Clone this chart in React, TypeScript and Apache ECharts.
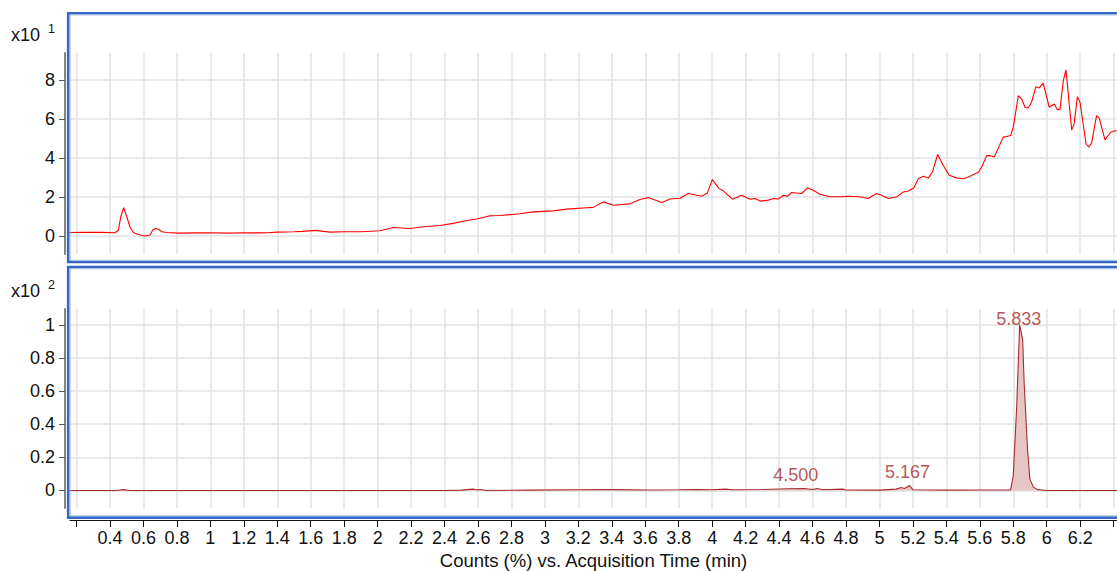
import React, { useEffect, useRef } from 'react';
import * as echarts from 'echarts';

// Top trace (x10^1 counts %) : [time (min), value]
const topTrace: [number, number][] = [
  [0.155, 0.18], [0.25, 0.19], [0.35, 0.19], [0.43, 0.17], [0.45, 0.3], [0.465, 1.0], [0.482, 1.46],
  [0.5, 1.0], [0.52, 0.45], [0.54, 0.18], [0.57, 0.08], [0.608, 0.0], [0.64, 0.05], [0.655, 0.3],
  [0.671, 0.39], [0.69, 0.35], [0.71, 0.22], [0.74, 0.18], [0.807, 0.15], [0.9, 0.16], [1.0, 0.17],
  [1.1, 0.15], [1.2, 0.17], [1.3, 0.16], [1.345, 0.17], [1.4, 0.2], [1.5, 0.22], [1.55, 0.24],
  [1.626, 0.29], [1.715, 0.2], [1.8, 0.22], [1.9, 0.22], [2.014, 0.27], [2.094, 0.44], [2.193, 0.39],
  [2.273, 0.48], [2.373, 0.54], [2.452, 0.65], [2.532, 0.8], [2.592, 0.87], [2.672, 1.04], [2.731, 1.05],
  [2.851, 1.14], [2.93, 1.24], [3.05, 1.29], [3.13, 1.38], [3.25, 1.45], [3.289, 1.47], [3.349, 1.75],
  [3.409, 1.58], [3.509, 1.65], [3.568, 1.87], [3.618, 1.97], [3.698, 1.72], [3.748, 1.9], [3.808, 1.94],
  [3.857, 2.18], [3.9, 2.1], [3.937, 2.04], [3.971, 2.21], [4.001, 2.89], [4.041, 2.43], [4.061, 2.35],
  [4.121, 1.89], [4.176, 2.09], [4.226, 1.89], [4.256, 1.92], [4.286, 1.79], [4.336, 1.84], [4.366, 1.92],
  [4.396, 1.9], [4.426, 2.09], [4.45, 2.04], [4.475, 2.23], [4.535, 2.18], [4.569, 2.47], [4.604, 2.35],
  [4.644, 2.14], [4.704, 2.01], [4.764, 2.01], [4.813, 2.04], [4.883, 2.01], [4.933, 1.92], [4.983, 2.18],
  [5.013, 2.09], [5.053, 1.92], [5.103, 2.01], [5.142, 2.26], [5.172, 2.31], [5.206, 2.48], [5.232, 2.94],
  [5.262, 3.06], [5.292, 2.97], [5.316, 3.28], [5.348, 4.18], [5.378, 3.67], [5.417, 3.11], [5.46, 2.98],
  [5.501, 2.94], [5.531, 3.03], [5.591, 3.27], [5.611, 3.54], [5.641, 4.12], [5.66, 4.13], [5.686, 4.05],
  [5.74, 5.07], [5.76, 5.1], [5.784, 5.15], [5.8, 5.58], [5.83, 7.19], [5.85, 7.02], [5.87, 6.6],
  [5.889, 6.56], [5.909, 6.85], [5.935, 7.65], [5.955, 7.59], [5.979, 7.84], [6.015, 6.6], [6.045, 6.77],
  [6.063, 6.48], [6.079, 6.48], [6.099, 7.96], [6.115, 8.52], [6.149, 5.44], [6.163, 5.71], [6.183, 7.14],
  [6.199, 6.85], [6.235, 4.73], [6.252, 4.56], [6.268, 4.76], [6.298, 6.17], [6.314, 6.04], [6.348, 4.93],
  [6.382, 5.32], [6.418, 5.41],
];

// Bottom trace (x10^2 counts %)
const bottomTrace: [number, number][] = [
  [0.155, 0], [0.44, 0], [0.48, 0.005], [0.52, 0], [2.4, 0], [2.5, 0.002], [2.57, 0.008], [2.59, 0.004],
  [2.62, 0.006], [2.65, 0], [2.9, 0.002], [3.2, 0.004], [3.4, 0.005], [3.6, 0.003], [3.8, 0.004],
  [3.9, 0.006], [4.0, 0.004], [4.08, 0.008], [4.12, 0.004], [4.3, 0.006], [4.45, 0.01], [4.55, 0.012],
  [4.6, 0.006], [4.63, 0.012], [4.66, 0.004], [4.78, 0.008], [4.8, 0.003], [5.0, 0.002], [5.1, 0.008],
  [5.13, 0.018], [5.15, 0.012], [5.18, 0.03], [5.2, 0.004], [5.4, 0.002], [5.6, 0.003], [5.784, 0.003],
  [5.8, 0.09], [5.82, 0.5], [5.838, 1.0], [5.856, 0.91], [5.865, 0.65], [5.885, 0.25], [5.899, 0.07],
  [5.92, 0.02], [5.945, 0.005], [6.0, 0], [6.42, 0],
];

const peakTimes = [4.5, 5.167, 5.833];
const peakHeights = [0.012, 0.03, 1.0];

const xTickValues = [0.2, 0.4, 0.6, 0.8, 1, 1.2, 1.4, 1.6, 1.8, 2, 2.2, 2.4, 2.6, 2.8, 3, 3.2, 3.4, 3.6,
  3.8, 4, 4.2, 4.4, 4.6, 4.8, 5, 5.2, 5.4, 5.6, 5.8, 6, 6.2, 6.4];
const xLabelValues = [0.4, 0.6, 0.8, 1, 1.2, 1.4, 1.6, 1.8, 2, 2.2, 2.4, 2.6, 2.8, 3, 3.2, 3.4, 3.6,
  3.8, 4, 4.2, 4.4, 4.6, 4.8, 5, 5.2, 5.4, 5.6, 5.8, 6, 6.2];
const topYTicks = [0, 2, 4, 6, 8];
const bottomYTicks = [0, 0.2, 0.4, 0.6, 0.8, 1];
const xAxisTitle = 'Counts (%) vs. Acquisition Time (min)';
const scaleLabels = ['x10', 'x10'];
const scaleExponents = ['1', '2'];

const X_MIN = 0.161;
const X_MAX = 6.42;
const FONT = 'Arial, "Liberation Sans", sans-serif';
const FS = 18;
const GRID_COLOR = '#e2e2e2';
const FRAME_DARK = '#3467c3';
const FRAME_LIGHT = '#a7bfe8';

export default function App() {
  const ref = useRef<HTMLDivElement>(null);
  useEffect(() => {
    if (!ref.current) return;
    const chart = echarts.init(ref.current, undefined, { renderer: 'svg' });

    const yAxisCommon = (ticks: number[], min: number, max: number, grid: number) => ({
      type: 'value',
      gridIndex: grid,
      min,
      max,
      offset: 5,
      axisLine: { show: true, onZero: false, lineStyle: { color: '#858585', width: 2 } },
      axisTick: { show: true, length: 6, customValues: ticks, lineStyle: { color: '#555', width: 1 } },
      axisLabel: { customValues: ticks, fontSize: FS, fontFamily: FONT, color: '#111', margin: 10 },
      splitLine: { show: true, lineStyle: { color: GRID_COLOR, width: 1.5 } },
    });

    const frame = (y: number, h: number) => [
      {
        type: 'rect', z: 100, silent: true,
        shape: { x: 68.2, y, width: 1100, height: h },
        style: { fill: 'none', stroke: FRAME_DARK, lineWidth: 2.6 },
      },
      {
        type: 'rect', z: 100, silent: true,
        shape: { x: 70.2, y: y + 1.8, width: 1100, height: h - 3.6 },
        style: { fill: 'none', stroke: FRAME_LIGHT, lineWidth: 1 },
      },
    ];

    const scaleText = (i: number, yMid: number) => [
      {
        type: 'text', z: 100, x: 11, y: yMid,
        style: { text: scaleLabels[i], fontSize: FS, fontFamily: FONT, fill: '#111', verticalAlign: 'middle' },
      },
      {
        type: 'text', z: 100, x: 48, y: yMid - 5.5,
        style: { text: scaleExponents[i], fontSize: 12.5, fontFamily: FONT, fill: '#111', verticalAlign: 'middle' },
      },
    ];

    chart.setOption({
      animation: false,
      backgroundColor: '#fff',
      grid: [
        { left: 70, right: 0, top: 53, height: 201 },
        { left: 70, right: 0, top: 309, height: 200 },
      ],
      xAxis: [
        {
          type: 'value', gridIndex: 0, min: X_MIN, max: X_MAX,
          axisLine: { show: false, onZero: false },
          axisTick: { show: false, customValues: xTickValues },
          axisLabel: { show: false, customValues: xLabelValues },
          splitLine: { show: true, lineStyle: { color: GRID_COLOR, width: 1.5 } },
        },
        {
          type: 'value', gridIndex: 1, min: X_MIN, max: X_MAX, offset: 12,
          axisLine: { show: true, onZero: false, lineStyle: { color: '#111', width: 1 } },
          axisTick: { show: true, length: 7, customValues: xTickValues, lineStyle: { color: '#111', width: 1 } },
          axisLabel: { customValues: xLabelValues, fontSize: FS, fontFamily: FONT, color: '#111', margin: 9 },
          splitLine: { show: true, lineStyle: { color: GRID_COLOR, width: 1.5 } },
          name: xAxisTitle,
          nameLocation: 'middle',
          nameGap: 31,
          nameTextStyle: { fontSize: 18.5, fontFamily: FONT, color: '#111' },
        },
      ],
      yAxis: [
        yAxisCommon(topYTicks, -0.92, 9.38, 0),
        yAxisCommon(bottomYTicks, -0.106, 1.096, 1),
      ],
      series: [
        {
          type: 'line', xAxisIndex: 0, yAxisIndex: 0, data: topTrace,
          showSymbol: false, symbol: 'none',
          lineStyle: { color: '#ff0000', width: 1.1 },
        },
        {
          type: 'line', xAxisIndex: 1, yAxisIndex: 1, data: bottomTrace,
          showSymbol: false, symbol: 'none',
          lineStyle: { color: '#a82c2c', width: 1.1 },
          areaStyle: { color: '#e6c5c5', opacity: 1 },
        },
        {
          type: 'scatter', xAxisIndex: 1, yAxisIndex: 1, symbolSize: 0,
          data: peakTimes.map((t, i) => ({
            value: [t, peakHeights[i]],
            label: { distance: i === 2 ? -3 : 4 },
          })),
          label: {
            show: true, position: 'top',
            formatter: (p: any) => p.value[0].toFixed(3),
            fontSize: FS, fontFamily: FONT, color: '#a52a2a',
          },
        },
      ],
      graphic: [
        ...frame(13.2, 248.8),
        ...frame(267, 250.6),
        ...scaleText(0, 34.8),
        ...scaleText(1, 290.5),
      ],
    });
    return () => chart.dispose();
  }, []);
  return <div ref={ref} style={{ position: 'fixed', left: 0, top: 0, width: 1117, height: 571 }} />;
}
